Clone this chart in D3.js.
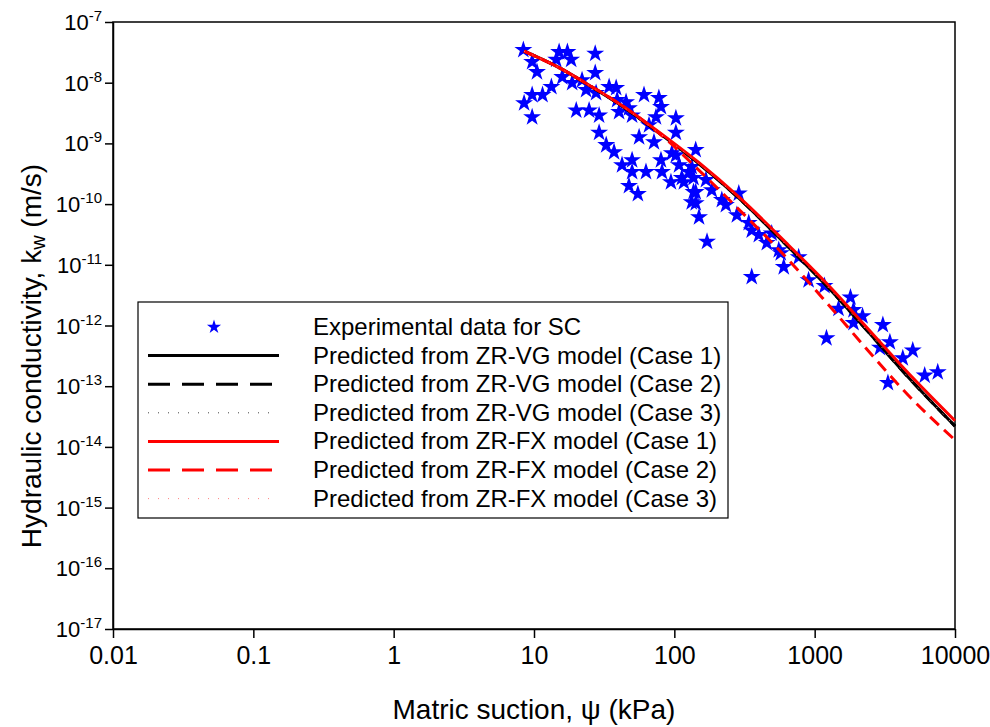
<!DOCTYPE html>
<html>
<head>
<meta charset="utf-8">
<script src="https://cdn.jsdelivr.net/npm/d3@7"></script>
<style>
  body { margin: 0; background: #fff; }
  svg text { font-family: "Liberation Sans", Arial, sans-serif; fill: #000; }
</style>
</head>
<body>
<div class="holder"></div>
<script>
// experimental points (suction in kPa, conductivity in m/s)
var suction = [8.4, 9.7, 10.5, 8.5, 9.7, 11.5, 9.7, 13.3, 14.4, 15.1, 17.3, 18.4, 27.3, 27.3, 15.9, 18.7,
    22.0, 23.5, 27.7, 20.0, 24.7, 29.1, 29.1, 32.7, 37.2, 34.3, 38.5, 39.1, 45.3, 47.5, 40.4, 50.0,
    42.4, 50.0, 50.0, 62.8, 47.5, 55.0, 60.8, 77.6, 80.3, 74.0, 102.6, 102.6, 56.1, 71.6, 80.3, 81.7,
    94.6, 113, 102.6, 127, 142, 133, 96, 108, 117, 66,
    142, 133, 137, 137, 142, 150, 171, 356, 168, 185, 218, 233, 288, 279, 339, 356, 400, 494, 456,
    555, 602, 573, 769, 905, 1175, 1799, 1479, 1891, 1891, 2193, 1214, 3062, 3436, 2917, 4246, 5000,
    6081, 7534, 3327]
var conductivity = [3.46e-8, 2.2e-8, 1.5e-8, 4.6e-9, 2.7e-9, 6.3e-9, 6.3e-9, 8.5e-9, 2.4e-8, 3.2e-8, 3.2e-8, 2.4e-8, 3.0e-8, 1.45e-8, 1.24e-8, 9.9e-9,
    1.1e-8, 7.6e-9, 6.8e-9, 3.5e-9, 3.5e-9, 2.9e-9, 1.5e-9, 9.4e-10, 7.2e-10, 8.5e-9, 8.2e-9, 5.2e-9, 4.8e-9, 3.8e-9, 3.3e-9, 2.9e-9,
    4.4e-10, 5.3e-10, 3.4e-10, 3.4e-10, 2.0e-10, 1.47e-10, 6.3e-9, 5.6e-9, 4.0e-9, 2.7e-9, 2.6e-9, 1.5e-9, 1.27e-9, 1.05e-9, 5.3e-10, 3.4e-10,
    2.3e-10, 2.7e-10, 6.4e-10, 3.4e-10, 1.58e-10, 1.08e-10, 6.9e-10, 4.4e-10, 2.3e-10, 2.0e-9,
    7.8e-10, 4.1e-10, 2.7e-10, 1.58e-10, 1.04e-10, 6.1e-11, 2.4e-11, 6.3e-12, 2.5e-10, 1.7e-10, 1.17e-10, 9.7e-11, 1.5e-10, 6.6e-11, 4.9e-11, 3.7e-11, 3.1e-11, 3.3e-11, 2.3e-11,
    1.75e-11, 9.2e-12, 1.56e-11, 1.34e-11, 5.6e-12, 4.5e-12, 2.9e-12, 1.9e-12, 1.8e-12, 1.1e-12, 1.43e-12, 6.2e-13, 1.02e-12, 5.3e-13, 4.3e-13, 2.9e-13, 3.9e-13,
    1.5e-13, 1.7e-13, 1.13e-13]

// predicted curves
var curveSuction = [8.5, 15.2, 26, 40, 87, 150, 288, 652, 1253, 2415, 4645, 10000]
var vgCase1 = [3.3e-8, 1.75e-8, 8.4e-9, 4.5e-9, 1.22e-9, 4.6e-10, 1.25e-10, 1.95e-11, 4.2e-12, 7.8e-13, 1.4e-13, 2.2e-14]
var vgCase2 = [3.3e-8, 1.75e-8, 8.4e-9, 4.5e-9, 1.22e-9, 4.6e-10, 1.25e-10, 1.95e-11, 4.2e-12, 7.8e-13, 1.4e-13, 2.2e-14]
var vgCase3 = [3.3e-8, 1.75e-8, 8.4e-9, 4.5e-9, 1.22e-9, 4.6e-10, 1.25e-10, 1.95e-11, 4.2e-12, 7.8e-13, 1.4e-13, 2.2e-14]
var fxCase1 = [3.3e-8, 1.75e-8, 8.5e-9, 4.6e-9, 1.27e-9, 4.8e-10, 1.31e-10, 2.1e-11, 4.6e-12, 8.7e-13, 1.65e-13, 2.7e-14]
var fxCase2 = [3.3e-8, 1.75e-8, 8.5e-9, 4.6e-9, 1.18e-9, 3.6e-10, 8.2e-11, 1.2e-11, 2.2e-12, 3.8e-13, 7.1e-14, 1.3e-14]
var fxCase3 = [3.3e-8, 1.75e-8, 8.4e-9, 4.5e-9, 1.22e-9, 4.6e-10, 1.25e-10, 1.95e-11, 4.2e-12, 7.8e-13, 1.4e-13, 2.2e-14]

var xTicks = [0.01, 0.1, 1, 10, 100, 1000, 10000]
var xTickLabels = ["0.01", "0.1", "1", "10", "100", "1000", "10000"]
var yExponents = [-7, -8, -9, -10, -11, -12, -13, -14, -15, -16, -17]

var legendLabels = ["Experimental data for SC",
    "Predicted from ZR-VG model (Case 1)",
    "Predicted from ZR-VG model (Case 2)",
    "Predicted from ZR-VG model (Case 3)",
    "Predicted from ZR-FX model (Case 1)",
    "Predicted from ZR-FX model (Case 2)",
    "Predicted from ZR-FX model (Case 3)"]

var width = 990,
    height = 727;

// plot box
var pLeft = 113, pRight = 955, pTop = 22, pBottom = 629

var x = d3.scaleLog().domain([0.01, 10000]).range([pLeft, pRight])
var y = d3.scaleLog().domain([1e-17, 1e-7]).range([pBottom, pTop])

var svg = d3.select(".holder").append("svg")
    .attr("width", width)
    .attr("height", height)

// frame
svg.append("rect")
    .attr("x", pLeft)
    .attr("y", pTop)
    .attr("width", pRight - pLeft)
    .attr("height", pBottom - pTop)
    .attr("fill", "none")
    .attr("stroke", "#000")
    .attr("stroke-width", 1.5)

// x axis
var xAxis = svg.append("g")
    .attr("transform", "translate(0," + pBottom + ")")
    .call(d3.axisBottom(x).tickValues(xTicks).tickFormat((d, i) => xTickLabels[i]).tickSizeInner(9).tickSizeOuter(0).tickPadding(8))
xAxis.select(".domain").attr("stroke-width", 1.5)
xAxis.selectAll(".tick line").attr("stroke-width", 1.5)
xAxis.selectAll(".tick text")
    .style("font-size", "25px")
    .style("font-family", "'Liberation Sans', Arial, sans-serif")

// y axis
var yAxis = svg.append("g")
    .attr("transform", "translate(" + pLeft + ",0)")
    .call(d3.axisLeft(y).tickValues(yExponents.map(e => Math.pow(10, e))).tickFormat("").tickSizeInner(8).tickSizeOuter(0))
yAxis.select(".domain").attr("stroke-width", 1.5)
yAxis.selectAll(".tick line").attr("stroke-width", 1.5)

var yLab = svg.append("g").selectAll("text")
    .data(yExponents)
    .enter().append("text")
    .attr("x", pLeft - 11)
    .attr("y", d => y(Math.pow(10, d)) + 8)
    .attr("text-anchor", "end")
    .style("font-size", "22px")
yLab.append("tspan").text("10")
yLab.append("tspan")
    .attr("dy", -9)
    .style("font-size", "15px")
    .text(d => "-" + Math.abs(d))

// axis titles
svg.append("text")
    .attr("x", (pLeft + pRight) / 2)
    .attr("y", 719)
    .attr("text-anchor", "middle")
    .style("font-size", "28px")
    .text("Matric suction, \u03c8 (kPa)")

var yt = svg.append("text")
    .attr("transform", "translate(41,356) rotate(-90)")
    .attr("text-anchor", "middle")
    .style("font-size", "28px")
yt.append("tspan").text("Hydraulic conductivity, k")
yt.append("tspan").attr("dy", 4).style("font-size", "20px").text("w")
yt.append("tspan").attr("dy", -4).text(" (m/s)")

// stars
var star = d3.symbol().type(d3.symbolStar).size(100)
svg.append("g").selectAll("path")
    .data(suction)
    .enter().append("path")
    .attr("d", star)
    .attr("transform", (d, i) => "translate(" + x(d) + "," + y(conductivity[i]) + ")")
    .attr("fill", "#0000ff")

// curves
var styles = [
    { k: vgCase1, color: "#000", w: 3, dash: null },
    { k: vgCase2, color: "#000", w: 3, dash: "12,7" },
    { k: vgCase3, color: "#444", w: 1, dash: "1,8" },
    { k: fxCase1, color: "#ff0000", w: 3, dash: null },
    { k: fxCase2, color: "#ff0000", w: 3, dash: "12,7" },
    { k: fxCase3, color: "#ff8080", w: 1, dash: "1,8" }
]

var line = d3.line()
    .x((d, i) => x(curveSuction[i]))
    .y(d => y(d))
    .curve(d3.curveMonotoneX)

styles.forEach(function(s) {
    svg.append("path")
        .datum(s.k)
        .attr("d", line)
        .attr("fill", "none")
        .attr("stroke", s.color)
        .attr("stroke-width", s.w)
        .attr("stroke-dasharray", s.dash)
})

// legend
var lg = svg.append("g")
lg.append("rect")
    .attr("x", 138)
    .attr("y", 302)
    .attr("width", 590)
    .attr("height", 216)
    .attr("fill", "#fff")
    .attr("stroke", "#000")
    .attr("stroke-width", 1.2)

var rowY = d => 327 + d * 28.6

lg.append("path")
    .attr("d", d3.symbol().type(d3.symbolStar).size(62))
    .attr("transform", "translate(214," + rowY(0) + ")")
    .attr("fill", "#0000ff")

var legendDash = [null, "22,12", "1,9", null, "22,12", "1,9"]
styles.forEach(function(s, i) {
    lg.append("line")
        .attr("x1", 148)
        .attr("x2", s.dash ? 276 : 279)
        .attr("y1", rowY(i + 1))
        .attr("y2", rowY(i + 1))
        .attr("stroke", s.color)
        .attr("stroke-width", s.w)
        .attr("stroke-dasharray", legendDash[i])
})

lg.selectAll("text")
    .data(legendLabels)
    .enter().append("text")
    .attr("x", 313)
    .attr("y", (d, i) => rowY(i) + 8)
    .style("font-size", "24px")
    .text(d => d)
</script>
</body>
</html>
